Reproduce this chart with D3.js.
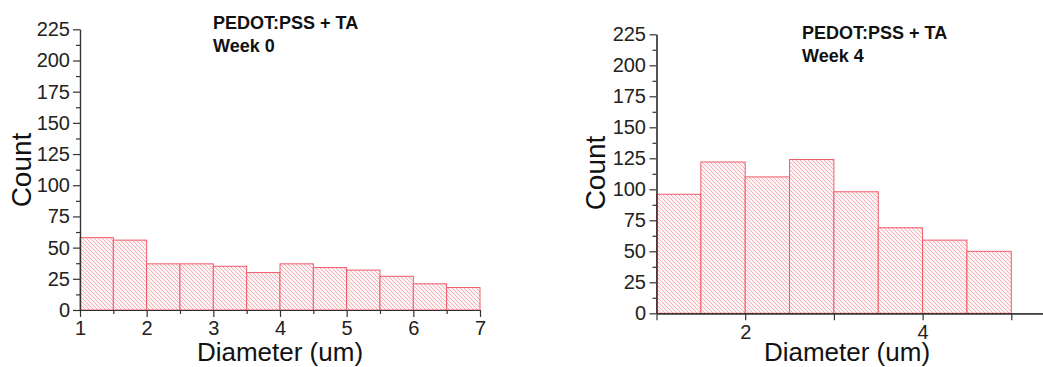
<!DOCTYPE html>
<html>
<head>
<meta charset="utf-8">
<script src="https://cdn.jsdelivr.net/npm/d3@7"></script>
<style>
  html, body { margin: 0; padding: 0; background: #fff; }
  svg { display: block; font-family: "Liberation Sans", Arial, sans-serif; }
  .axis path, .axis line { stroke: #333; stroke-width: 1.2; }
  .axis text { fill: #222; font-size: 20px; font-family: "Liberation Sans", Arial, sans-serif; }
</style>
</head>
<body>
<svg id="chart" width="1043" height="367"></svg>
<script>
// Histogram bins: left edge of each 0.5 um bin and its count
const week0BinStarts = [1, 1.5, 2, 2.5, 3, 3.5, 4, 4.5, 5, 5.5, 6, 6.5];
const week0Counts    = [58, 56, 37, 37, 35, 30, 37, 34, 32, 27, 21, 18];

const week4BinStarts = [1, 1.5, 2, 2.5, 3, 3.5, 4, 4.5];
const week4Counts    = [96, 122, 110, 124, 98, 69, 59, 50];

const binWidth = 0.5;

const countTicks = [0, 25, 50, 75, 100, 125, 150, 175, 200, 225];
const countMinorTicks = [12.5, 37.5, 62.5, 87.5, 112.5, 137.5, 162.5, 187.5, 212.5];

const week0DiameterTicks = [1, 2, 3, 4, 5, 6, 7];
const week0DiameterMinor = [1.5, 2.5, 3.5, 4.5, 5.5, 6.5];
const week4DiameterTicks = [2, 4];
const week4DiameterMinor = [1, 3, 5];

const panelTitle = "PEDOT:PSS + TA";
const week0Label = "Week 0";
const week4Label = "Week 4";
const xTitle = "Diameter (um)";
const yTitle = "Count";

const svg = d3.select("#chart");

// diagonal hatch used as bar fill
const defs = svg.append("defs");
const pat = defs.append("pattern")
  .attr("id", "hatch")
  .attr("patternUnits", "userSpaceOnUse")
  .attr("width", 4).attr("height", 4);
pat.append("rect").attr("width", 4).attr("height", 4).attr("fill", "#fff4f5");
pat.append("path")
  .attr("d", "M-1,-1 L5,5 M3,-1 L5,1 M-1,3 L1,5")
  .attr("stroke", "#f7b0b6")
  .attr("stroke-width", 1);

function drawPanel(cfg) {
  const x = d3.scaleLinear().domain(cfg.xDomain).range(cfg.xRange);
  const y = d3.scaleLinear().domain([0, 225]).range(cfg.yRange);
  const g = svg.append("g");

  // bars
  g.selectAll("rect.bar")
    .data(cfg.starts.map((s, i) => ({ s, v: cfg.counts[i] })))
    .join("rect")
    .attr("class", "bar")
    .attr("x", d => x(d.s))
    .attr("width", d => x(d.s + binWidth) - x(d.s))
    .attr("y", d => y(d.v))
    .attr("height", d => y(0) - y(d.v))
    .attr("fill", "url(#hatch)")
    .attr("stroke", "#ef5b69")
    .attr("stroke-width", 1);

  // y axis: labelled majors plus short minors
  g.append("g").attr("class", "axis")
    .attr("transform", `translate(${cfg.xRange[0]},0)`)
    .call(d3.axisLeft(y).tickValues(countMinorTicks).tickFormat("").tickSize(4).tickSizeOuter(0));
  g.append("g").attr("class", "axis")
    .attr("transform", `translate(${cfg.xRange[0]},0)`)
    .call(d3.axisLeft(y).tickValues(countTicks).tickSize(7).tickPadding(cfg.yPad).tickSizeOuter(0));

  // x axis
  g.append("g").attr("class", "axis")
    .attr("transform", `translate(0,${cfg.yRange[0]})`)
    .call(d3.axisBottom(x).tickValues(cfg.minor).tickFormat("").tickSize(cfg.minorLen).tickSizeOuter(0));
  g.append("g").attr("class", "axis")
    .attr("transform", `translate(0,${cfg.yRange[0]})`)
    .call(d3.axisBottom(x).tickValues(cfg.major).tickFormat(d3.format("d")).tickSize(7).tickPadding(cfg.xPad).tickSizeOuter(0));

  // axis titles
  g.append("text")
    .attr("transform", `translate(${cfg.yTitlePos[0]},${cfg.yTitlePos[1]}) rotate(-90)`)
    .attr("text-anchor", "middle")
    .attr("font-size", 28)
    .attr("fill", "#111")
    .text(yTitle);
  g.append("text")
    .attr("x", cfg.xTitlePos[0]).attr("y", cfg.xTitlePos[1])
    .attr("text-anchor", "middle")
    .attr("font-size", 26)
    .attr("fill", "#111")
    .text(xTitle);

  // annotation
  const t = g.append("text")
    .attr("font-size", 18).attr("font-weight", "bold").attr("fill", "#111");
  t.append("tspan").attr("x", cfg.titlePos[0]).attr("y", cfg.titlePos[1]).text(panelTitle);
  t.append("tspan").attr("x", cfg.titlePos[0]).attr("y", cfg.titlePos[1] + 23).text(cfg.week);
}

drawPanel({
  starts: week0BinStarts, counts: week0Counts,
  xDomain: [1, 7], xRange: [80, 480], yRange: [310, 29.3],
  major: week0DiameterTicks, minor: week0DiameterMinor, minorLen: 4,
  xPad: 4, yPad: 3,
  yTitlePos: [31, 170], xTitlePos: [280, 361],
  titlePos: [213, 29], week: week0Label
});

drawPanel({
  starts: week4BinStarts, counts: week4Counts,
  xDomain: [1, 5.38], xRange: [656.5, 1045], yRange: [313.3, 34.3],
  major: week4DiameterTicks, minor: week4DiameterMinor, minorLen: 7,
  xPad: 5, yPad: 3.5,
  yTitlePos: [605, 173], xTitlePos: [847, 361],
  titlePos: [802, 39], week: week4Label
});
</script>
</body>
</html>
